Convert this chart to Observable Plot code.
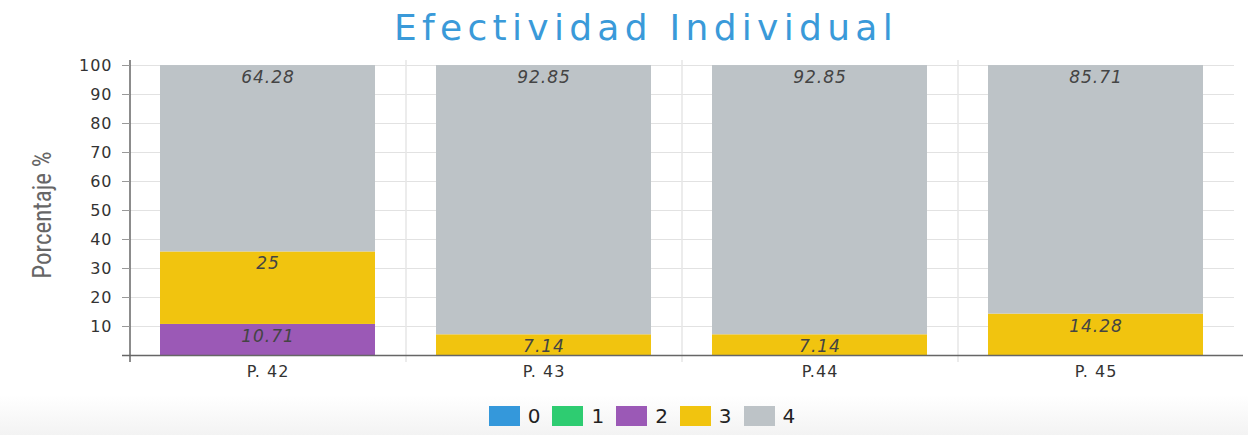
<!DOCTYPE html>
<html>
<head>
<meta charset="utf-8">
<script src="https://cdn.jsdelivr.net/npm/d3@7"></script>
<script src="https://cdn.jsdelivr.net/npm/@observablehq/plot@0.6"></script>
<style>
  html, body { margin: 0; padding: 0; background: #fff; width: 1248px; height: 435px; overflow: hidden; font-family: "DejaVu Sans", sans-serif; }
  #title { height: 50px; line-height: 56px; text-align: center; color: #3a9ad9; font-family: "DejaVu Sans", sans-serif; font-size: 36px; letter-spacing: 5.3px; padding-left: 44px; }
  #chart { position: relative; height: 345px; }
  #ylabel { position: absolute; left: 42px; top: 165px; transform: translate(-50%, -50%) rotate(-90deg); white-space: nowrap; font-family: "Liberation Sans Narrow", "Roboto Condensed", Roboto, sans-serif; font-size: 25px; color: #666; }
  #legend { height: 40px; background: linear-gradient(#ffffff, #f3f3f3); display: flex; justify-content: center; align-items: center; padding-top: 2px; box-sizing: border-box; padding-left: 48px; }
  .item { display: flex; align-items: center; margin-right: 12px; font-size: 20px; color: #222; }
  .sw { width: 31px; height: 20px; margin-right: 8px; }
</style>
</head>
<body>
<div id="title">Efectividad Individual</div>
<div id="chart"><div id="ylabel">Porcentaje %</div></div>
<div id="legend"></div>
<script>
const categories = ["P. 42", "P. 43", "P.44", "P. 45"];
const seriesKeys = ["0", "1", "2", "3", "4"];
const seriesColors = ["#3498db", "#2ecc71", "#9b59b6", "#f1c40f", "#bdc3c7"];
const values0 = [0, 0, 0, 0];
const values1 = [0, 0, 0, 0];
const values2 = [10.71, 0, 0, 0];
const values3 = [25, 7.14, 7.14, 14.28];
const values4 = [64.28, 92.85, 92.85, 85.71];
const yTicks = [10, 20, 30, 40, 50, 60, 70, 80, 90, 100];

const seriesValues = [values0, values1, values2, values3, values4];
const rows = [];
seriesKeys.forEach((s, i) => {
  categories.forEach((c, j) => {
    const v = seriesValues[i][j];
    if (v > 0) rows.push({ category: c, series: s, value: v });
  });
});

const W = 1248, H = 345, ML = 130, MR = 14, MT = 15, MB = 40;
const step = (W - ML - MR) / categories.length;

const plot = Plot.plot({
  width: W,
  height: H,
  marginLeft: ML,
  marginRight: MR,
  marginTop: MT,
  marginBottom: MB,
  style: { fontFamily: "'DejaVu Sans', sans-serif", fontSize: "15px", color: "#333", background: "transparent", letterSpacing: "1px" },
  x: { domain: categories, paddingInner: 0.221, paddingOuter: 0.1105, label: null },
  y: { domain: [0, 100], label: null },
  color: { domain: seriesKeys, range: seriesColors },
  marks: [
    Plot.gridY(yTicks, { stroke: "#e2e2e2", strokeOpacity: 1 }),
    Plot.ruleX(categories.slice(0, -1), { x: d => d, dx: step / 2, stroke: "#e6e6e6", strokeWidth: 1.5, insetTop: -5, insetBottom: -7 }),
    Plot.barY(rows, Plot.stackY({ x: "category", y: "value", z: "series", fill: "series", order: seriesKeys })),
    Plot.text(rows, Plot.stackY2({ x: "category", y: "value", z: "series", order: seriesKeys, text: d => String(d.value), dy: 12, fill: "#444", fontStyle: "italic", fontSize: 17, letterSpacing: "1.5px" })),
    Plot.ruleX([categories[0]], { x: d => d, dx: -step / 2, stroke: "#666", strokeWidth: 1.5, insetTop: -5, insetBottom: -7 }),
    Plot.ruleY([0], { stroke: "#666", strokeWidth: 1.5, insetLeft: -8, insetRight: -9 }),
    Plot.axisY(yTicks, { tickSize: 8, tickPadding: 10, stroke: "#999", fill: "#333", fontSize: 16, label: null }),
    Plot.axisX({ tickSize: 0, tickPadding: 10, fill: "#333", fontSize: 16, label: null })
  ]
});
document.getElementById("chart").appendChild(plot);

const legend = document.getElementById("legend");
seriesKeys.forEach((s, i) => {
  const item = document.createElement("div");
  item.className = "item";
  const sw = document.createElement("div");
  sw.className = "sw";
  sw.style.background = seriesColors[i];
  item.appendChild(sw);
  const t = document.createElement("span");
  t.textContent = s;
  item.appendChild(t);
  legend.appendChild(item);
});
</script>
</body>
</html>
